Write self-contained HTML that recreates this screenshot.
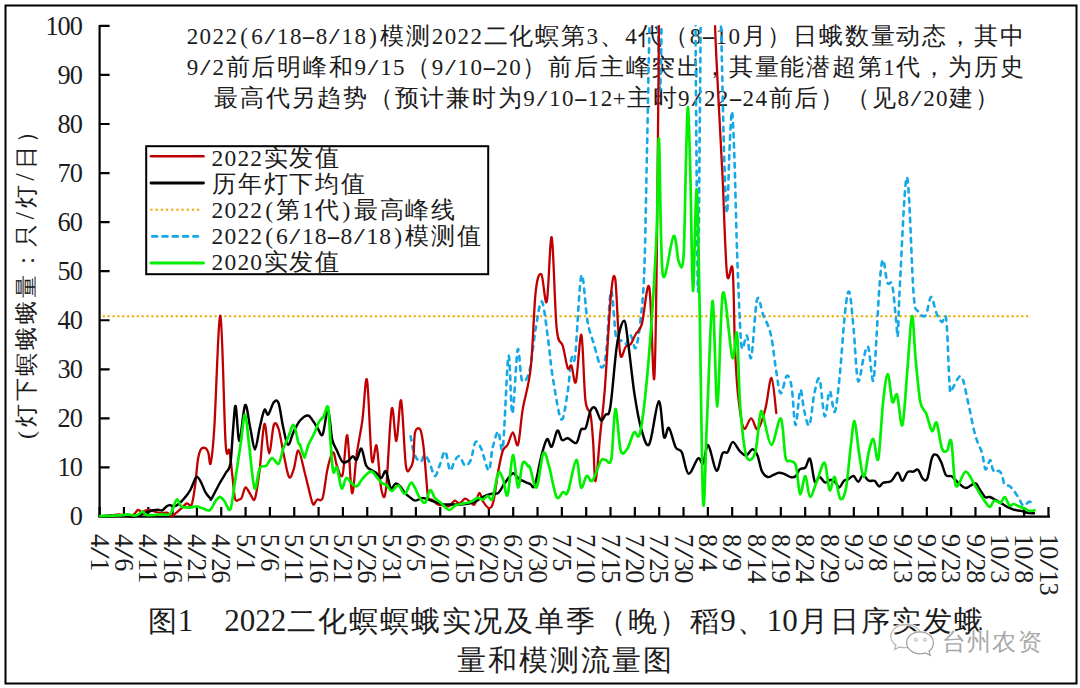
<!DOCTYPE html>
<html><head><meta charset="utf-8"><style>
html,body{margin:0;padding:0;background:#fff;width:1080px;height:688px;overflow:hidden}
svg{display:block;font-family:"Liberation Serif", serif}
</style></head><body>
<svg width="1080" height="688" viewBox="0 0 1080 688">
<rect x="0" y="0" width="1080" height="688" fill="#fff"/><rect x="5.5" y="5.5" width="1071" height="678" fill="none" stroke="#000" stroke-width="2"/><text x="60" y="620" font-size="8" fill="#fff">0</text><g fill="#1c1c1c"><text x="192.45" y="44.10" font-size="23.00" text-anchor="middle">2</text><text x="205.35" y="44.10" font-size="23.00" text-anchor="middle">0</text><text x="218.25" y="44.10" font-size="23.00" text-anchor="middle">2</text><text x="231.15" y="44.10" font-size="23.00" text-anchor="middle">2</text><text x="244.05" y="44.10" font-size="23.00" text-anchor="middle">(</text><text x="256.95" y="44.10" font-size="23.00" text-anchor="middle">6</text><text transform="translate(269.85,44.10) scale(1.65,1)" font-size="23.00" text-anchor="middle">/</text><text x="282.75" y="44.10" font-size="23.00" text-anchor="middle">1</text><text x="295.65" y="44.10" font-size="23.00" text-anchor="middle">8</text><text transform="translate(308.55,44.10) scale(1.9,1)" font-size="23.00" text-anchor="middle">-</text><text x="321.45" y="44.10" font-size="23.00" text-anchor="middle">8</text><text transform="translate(334.35,44.10) scale(1.65,1)" font-size="23.00" text-anchor="middle">/</text><text x="347.25" y="44.10" font-size="23.00" text-anchor="middle">1</text><text x="360.15" y="44.10" font-size="23.00" text-anchor="middle">8</text><text x="373.05" y="44.10" font-size="23.00" text-anchor="middle">)</text><text x="392.40" y="44.10" font-size="24.20" text-anchor="middle">模</text><text x="418.20" y="44.10" font-size="24.20" text-anchor="middle">测</text><text x="437.55" y="44.10" font-size="23.00" text-anchor="middle">2</text><text x="450.45" y="44.10" font-size="23.00" text-anchor="middle">0</text><text x="463.35" y="44.10" font-size="23.00" text-anchor="middle">2</text><text x="476.25" y="44.10" font-size="23.00" text-anchor="middle">2</text><text x="495.60" y="44.10" font-size="24.20" text-anchor="middle">二</text><text x="521.40" y="44.10" font-size="24.20" text-anchor="middle">化</text><text x="547.20" y="44.10" font-size="24.20" text-anchor="middle">螟</text><text x="573.00" y="44.10" font-size="24.20" text-anchor="middle">第</text><text x="592.35" y="44.10" font-size="23.00" text-anchor="middle">3</text><text x="611.70" y="44.10" font-size="24.20" text-anchor="middle">、</text><text x="631.05" y="44.10" font-size="23.00" text-anchor="middle">4</text><text x="650.40" y="44.10" font-size="24.20" text-anchor="middle">代</text><text x="676.20" y="44.10" font-size="24.20" text-anchor="middle">（</text><text x="695.55" y="44.10" font-size="23.00" text-anchor="middle">8</text><text transform="translate(708.45,44.10) scale(1.9,1)" font-size="23.00" text-anchor="middle">-</text><text x="721.35" y="44.10" font-size="23.00" text-anchor="middle">1</text><text x="734.25" y="44.10" font-size="23.00" text-anchor="middle">0</text><text x="753.60" y="44.10" font-size="24.20" text-anchor="middle">月</text><text x="779.40" y="44.10" font-size="24.20" text-anchor="middle">）</text><text x="805.20" y="44.10" font-size="24.20" text-anchor="middle">日</text><text x="831.00" y="44.10" font-size="24.20" text-anchor="middle">蛾</text><text x="856.80" y="44.10" font-size="24.20" text-anchor="middle">数</text><text x="882.60" y="44.10" font-size="24.20" text-anchor="middle">量</text><text x="908.40" y="44.10" font-size="24.20" text-anchor="middle">动</text><text x="934.20" y="44.10" font-size="24.20" text-anchor="middle">态</text><text x="960.00" y="44.10" font-size="24.20" text-anchor="middle">，</text><text x="985.80" y="44.10" font-size="24.20" text-anchor="middle">其</text><text x="1011.60" y="44.10" font-size="24.20" text-anchor="middle">中</text><text x="192.45" y="74.60" font-size="23.00" text-anchor="middle">9</text><text transform="translate(205.35,74.60) scale(1.65,1)" font-size="23.00" text-anchor="middle">/</text><text x="218.25" y="74.60" font-size="23.00" text-anchor="middle">2</text><text x="237.60" y="74.60" font-size="24.20" text-anchor="middle">前</text><text x="263.40" y="74.60" font-size="24.20" text-anchor="middle">后</text><text x="289.20" y="74.60" font-size="24.20" text-anchor="middle">明</text><text x="315.00" y="74.60" font-size="24.20" text-anchor="middle">峰</text><text x="340.80" y="74.60" font-size="24.20" text-anchor="middle">和</text><text x="360.15" y="74.60" font-size="23.00" text-anchor="middle">9</text><text transform="translate(373.05,74.60) scale(1.65,1)" font-size="23.00" text-anchor="middle">/</text><text x="385.95" y="74.60" font-size="23.00" text-anchor="middle">1</text><text x="398.85" y="74.60" font-size="23.00" text-anchor="middle">5</text><text x="418.20" y="74.60" font-size="24.20" text-anchor="middle">（</text><text x="437.55" y="74.60" font-size="23.00" text-anchor="middle">9</text><text transform="translate(450.45,74.60) scale(1.65,1)" font-size="23.00" text-anchor="middle">/</text><text x="463.35" y="74.60" font-size="23.00" text-anchor="middle">1</text><text x="476.25" y="74.60" font-size="23.00" text-anchor="middle">0</text><text transform="translate(489.15,74.60) scale(1.9,1)" font-size="23.00" text-anchor="middle">-</text><text x="502.05" y="74.60" font-size="23.00" text-anchor="middle">2</text><text x="514.95" y="74.60" font-size="23.00" text-anchor="middle">0</text><text x="534.30" y="74.60" font-size="24.20" text-anchor="middle">）</text><text x="560.10" y="74.60" font-size="24.20" text-anchor="middle">前</text><text x="585.90" y="74.60" font-size="24.20" text-anchor="middle">后</text><text x="611.70" y="74.60" font-size="24.20" text-anchor="middle">主</text><text x="637.50" y="74.60" font-size="24.20" text-anchor="middle">峰</text><text x="663.30" y="74.60" font-size="24.20" text-anchor="middle">突</text><text x="689.10" y="74.60" font-size="24.20" text-anchor="middle">出</text><text x="714.90" y="74.60" font-size="24.20" text-anchor="middle">，</text><text x="740.70" y="74.60" font-size="24.20" text-anchor="middle">其</text><text x="766.50" y="74.60" font-size="24.20" text-anchor="middle">量</text><text x="792.30" y="74.60" font-size="24.20" text-anchor="middle">能</text><text x="818.10" y="74.60" font-size="24.20" text-anchor="middle">潜</text><text x="843.90" y="74.60" font-size="24.20" text-anchor="middle">超</text><text x="869.70" y="74.60" font-size="24.20" text-anchor="middle">第</text><text x="889.05" y="74.60" font-size="23.00" text-anchor="middle">1</text><text x="908.40" y="74.60" font-size="24.20" text-anchor="middle">代</text><text x="934.20" y="74.60" font-size="24.20" text-anchor="middle">，</text><text x="960.00" y="74.60" font-size="24.20" text-anchor="middle">为</text><text x="985.80" y="74.60" font-size="24.20" text-anchor="middle">历</text><text x="1011.60" y="74.60" font-size="24.20" text-anchor="middle">史</text><text x="225.90" y="105.60" font-size="24.20" text-anchor="middle">最</text><text x="251.70" y="105.60" font-size="24.20" text-anchor="middle">高</text><text x="277.50" y="105.60" font-size="24.20" text-anchor="middle">代</text><text x="303.30" y="105.60" font-size="24.20" text-anchor="middle">另</text><text x="329.10" y="105.60" font-size="24.20" text-anchor="middle">趋</text><text x="354.90" y="105.60" font-size="24.20" text-anchor="middle">势</text><text x="380.70" y="105.60" font-size="24.20" text-anchor="middle">（</text><text x="406.50" y="105.60" font-size="24.20" text-anchor="middle">预</text><text x="432.30" y="105.60" font-size="24.20" text-anchor="middle">计</text><text x="458.10" y="105.60" font-size="24.20" text-anchor="middle">兼</text><text x="483.90" y="105.60" font-size="24.20" text-anchor="middle">时</text><text x="509.70" y="105.60" font-size="24.20" text-anchor="middle">为</text><text x="529.05" y="105.60" font-size="23.00" text-anchor="middle">9</text><text transform="translate(541.95,105.60) scale(1.65,1)" font-size="23.00" text-anchor="middle">/</text><text x="554.85" y="105.60" font-size="23.00" text-anchor="middle">1</text><text x="567.75" y="105.60" font-size="23.00" text-anchor="middle">0</text><text transform="translate(580.65,105.60) scale(1.9,1)" font-size="23.00" text-anchor="middle">-</text><text x="593.55" y="105.60" font-size="23.00" text-anchor="middle">1</text><text x="606.45" y="105.60" font-size="23.00" text-anchor="middle">2</text><text x="619.35" y="105.60" font-size="23.00" text-anchor="middle">+</text><text x="638.70" y="105.60" font-size="24.20" text-anchor="middle">主</text><text x="664.50" y="105.60" font-size="24.20" text-anchor="middle">时</text><text x="683.85" y="105.60" font-size="23.00" text-anchor="middle">9</text><text transform="translate(696.75,105.60) scale(1.65,1)" font-size="23.00" text-anchor="middle">/</text><text x="709.65" y="105.60" font-size="23.00" text-anchor="middle">2</text><text x="722.55" y="105.60" font-size="23.00" text-anchor="middle">2</text><text transform="translate(735.45,105.60) scale(1.9,1)" font-size="23.00" text-anchor="middle">-</text><text x="748.35" y="105.60" font-size="23.00" text-anchor="middle">2</text><text x="761.25" y="105.60" font-size="23.00" text-anchor="middle">4</text><text x="780.60" y="105.60" font-size="24.20" text-anchor="middle">前</text><text x="806.40" y="105.60" font-size="24.20" text-anchor="middle">后</text><text x="832.20" y="105.60" font-size="24.20" text-anchor="middle">）</text><text x="858.00" y="105.60" font-size="24.20" text-anchor="middle">（</text><text x="883.80" y="105.60" font-size="24.20" text-anchor="middle">见</text><text x="903.15" y="105.60" font-size="23.00" text-anchor="middle">8</text><text transform="translate(916.05,105.60) scale(1.65,1)" font-size="23.00" text-anchor="middle">/</text><text x="928.95" y="105.60" font-size="23.00" text-anchor="middle">2</text><text x="941.85" y="105.60" font-size="23.00" text-anchor="middle">0</text><text x="961.20" y="105.60" font-size="24.20" text-anchor="middle">建</text><text x="987.00" y="105.60" font-size="24.20" text-anchor="middle">）</text></g><line x1="99.6" y1="24.9" x2="99.6" y2="517.6" stroke="#000" stroke-width="2.2"/><line x1="98.5" y1="516.6" x2="1050" y2="516.6" stroke="#000" stroke-width="2.2"/><path d="M99.6,516.50H109.6M99.6,467.44H109.6M99.6,418.38H109.6M99.6,369.32H109.6M99.6,320.26H109.6M99.6,271.20H109.6M99.6,222.14H109.6M99.6,173.08H109.6M99.6,124.02H109.6M99.6,74.96H109.6M99.6,25.90H109.6M99.60,516.6V507M123.93,516.6V507M148.26,516.6V507M172.59,516.6V507M196.92,516.6V507M221.25,516.6V507M245.58,516.6V507M269.91,516.6V507M294.24,516.6V507M318.57,516.6V507M342.90,516.6V507M367.23,516.6V507M391.56,516.6V507M415.89,516.6V507M440.22,516.6V507M464.55,516.6V507M488.88,516.6V507M513.21,516.6V507M537.54,516.6V507M561.87,516.6V507M586.20,516.6V507M610.53,516.6V507M634.86,516.6V507M659.19,516.6V507M683.52,516.6V507M707.85,516.6V507M732.18,516.6V507M756.51,516.6V507M780.84,516.6V507M805.17,516.6V507M829.50,516.6V507M853.83,516.6V507M878.16,516.6V507M902.49,516.6V507M926.82,516.6V507M951.15,516.6V507M975.48,516.6V507M999.81,516.6V507M1024.14,516.6V507M1048.47,516.6V507" stroke="#000" stroke-width="2.2" fill="none"/><defs><clipPath id="pc"><rect x="99" y="25.3" width="952" height="493"/></clipPath></defs><line x1="103.8" y1="316.3" x2="1031" y2="316.3" stroke="#EDB41E" stroke-width="2.6" stroke-dasharray="0 4.86" stroke-linecap="round"/><g clip-path="url(#pc)" fill="none" stroke-linejoin="round" stroke-linecap="round"><path d="M410.6,436.3C411.2,439.3 412.7,450.0 414.4,454.3C416.1,458.6 419.0,461.7 420.7,461.8C422.3,462.0 423.0,455.2 424.5,455.2C425.9,455.2 427.4,458.4 429.2,461.8C430.9,465.3 433.1,475.4 434.8,476.0C436.6,476.6 437.8,469.7 439.6,465.6C441.3,461.5 443.5,450.6 445.2,451.4C447.0,452.2 448.4,468.8 450.0,470.3C451.5,471.9 453.1,463.3 454.7,460.9C456.3,458.5 457.7,455.4 459.4,456.2C461.2,457.0 463.2,465.0 465.1,465.6C467.0,466.2 469.0,463.9 470.8,459.9C472.5,456.0 473.8,443.9 475.5,442.0C477.2,440.1 479.0,443.9 481.2,448.6C483.4,453.3 486.8,470.3 488.7,470.3C490.6,470.3 490.9,455.1 492.5,448.6C494.1,442.1 496.4,431.9 498.2,431.6C499.9,431.3 501.2,459.3 502.9,446.7C504.6,434.1 506.9,361.4 508.5,355.9C510.1,350.4 510.8,414.7 512.4,413.6C513.9,412.6 516.1,355.2 517.7,349.7C519.3,344.2 520.1,377.1 522.1,380.6C524.1,384.1 527.2,379.3 529.5,370.7C531.8,362.0 533.6,340.2 535.7,328.7C537.7,317.2 539.8,299.9 541.9,301.5C543.9,303.2 546.2,326.3 548.0,338.6C549.8,350.9 550.3,362.0 552.5,375.5C554.7,389.0 558.7,416.4 561.2,419.3C563.7,422.2 565.8,403.2 567.5,393.0C569.2,382.8 570.2,364.5 571.5,358.3C572.8,352.1 573.5,369.7 575.2,355.9C576.8,342.1 579.3,281.4 581.4,275.6C583.4,269.9 585.5,310.0 587.5,321.3C589.6,332.6 591.4,335.9 593.7,343.5C596.0,351.1 599.1,365.3 601.1,367.0C603.2,368.6 604.4,366.1 606.0,353.4C607.7,340.7 609.3,293.8 611.0,291.0C612.7,288.2 614.4,328.5 616.0,336.7C617.6,344.9 619.2,339.2 620.8,340.4C622.4,341.6 624.1,344.8 625.8,344.0C627.4,343.2 629.1,334.9 630.7,335.5C632.4,336.1 634.1,350.6 635.7,347.9C637.4,345.2 639.2,332.4 640.6,319.4C642.0,306.4 643.2,298.2 644.3,270.0C645.4,241.8 646.1,190.8 647.0,150.0C647.9,109.2 648.7,60.0 649.5,25.0C650.3,-10.0 650.9,-49.2 652.0,-60.0C653.1,-70.8 654.8,-64.0 656.0,-40.0C657.2,-16.0 658.7,67.3 659.5,84.0C660.3,100.7 660.4,80.7 661.0,60.0C661.6,39.3 661.5,-5.0 663.0,-40.0C664.5,-75.0 665.8,-131.7 670.0,-150.0C674.2,-168.3 683.9,-168.3 688.0,-150.0C692.1,-131.7 693.2,-81.7 694.5,-40.0C695.8,1.7 695.4,44.7 696.0,100.0C696.6,155.3 697.3,291.7 698.0,291.7C698.7,291.7 699.3,155.3 700.0,100.0C700.7,44.7 700.3,1.7 702.0,-40.0C703.7,-81.7 707.3,-150.0 710.0,-150.0C712.7,-150.0 716.2,-69.2 718.0,-40.0C719.8,-10.8 720.0,-6.7 721.0,25.0C722.0,56.7 723.0,118.7 724.0,150.0C725.0,181.3 726.1,213.0 727.0,213.0C727.9,213.0 728.7,166.9 729.5,150.0C730.3,133.1 731.2,109.8 732.0,111.5C732.8,113.2 733.7,136.9 734.5,160.0C735.3,183.1 736.0,221.7 737.0,250.0C738.0,278.3 739.4,313.6 740.3,330.0C741.2,346.4 741.4,347.8 742.5,348.7C743.6,349.6 745.4,334.2 746.9,335.6C748.4,337.1 749.5,363.4 751.2,357.4C752.9,351.4 755.1,306.7 757.1,299.6C759.1,292.5 760.9,309.1 763.2,314.9C765.5,320.7 768.6,325.1 770.8,334.5C773.0,343.9 774.6,361.8 776.3,371.6C777.9,381.4 779.0,392.7 780.7,393.4C782.5,394.1 785.0,377.0 786.8,375.9C788.6,374.8 790.1,378.6 791.6,386.8C793.1,395.0 794.0,424.5 795.5,425.0C797.0,425.5 798.8,392.4 800.3,390.0C801.8,387.6 802.7,405.0 804.2,410.8C805.7,416.6 807.7,427.9 809.4,425.0C811.1,422.1 812.7,401.0 814.4,393.4C816.1,385.8 817.8,375.4 819.5,379.2C821.2,383.0 823.0,414.2 824.7,416.2C826.4,418.2 828.0,391.9 829.7,391.2C831.4,390.5 833.1,414.1 834.7,411.9C836.3,409.7 837.8,394.5 839.5,378.0C841.2,361.5 843.4,327.0 845.0,312.7C846.6,298.4 847.8,289.1 849.3,292.0C850.8,294.9 852.3,315.2 853.7,330.0C855.1,344.8 856.3,375.8 858.0,380.6C859.6,385.5 861.7,364.7 863.4,359.1C865.1,353.5 866.5,343.5 868.2,347.1C869.8,350.7 871.8,382.6 873.2,380.9C874.6,379.3 875.4,353.6 876.5,337.3C877.5,320.9 878.6,295.6 879.7,282.7C880.8,269.8 881.7,259.8 883.0,259.8C884.3,259.8 885.8,278.5 887.4,282.7C888.9,286.9 890.7,278.7 892.2,284.9C893.6,291.1 895.1,311.5 896.1,319.8C897.0,328.2 897.2,341.3 897.8,335.1C898.5,328.9 898.5,309.0 900.0,282.7C901.5,256.4 904.7,175.4 907.0,177.2C909.3,179.1 911.7,271.3 913.6,293.6C915.4,315.9 915.9,307.5 917.9,311.1C919.9,314.7 923.4,317.8 925.6,315.5C927.7,313.1 929.2,297.3 931.0,296.9C932.8,296.5 934.6,309.1 936.5,313.3C938.3,317.5 940.3,320.9 941.9,322.0C943.6,323.1 945.0,309.3 946.3,319.8C947.6,330.4 948.6,373.6 949.6,385.3C950.5,396.9 949.8,391.1 951.7,389.6C953.7,388.1 958.3,374.2 961.0,376.3C963.8,378.3 965.7,392.2 968.0,401.9C970.3,411.6 972.7,425.9 975.0,434.4C977.3,442.9 980.2,447.2 982.0,453.0C983.7,458.8 984.1,468.1 985.5,469.3C986.8,470.5 988.9,460.0 990.1,460.0C991.3,460.0 991.8,467.0 992.7,469.1C993.6,471.2 994.6,472.3 995.6,472.6C996.6,472.8 997.4,470.4 998.5,470.8C999.6,471.2 1001.0,472.7 1002.0,474.9C1002.9,477.1 1003.4,482.4 1004.3,484.2C1005.2,485.9 1006.2,485.0 1007.2,485.3C1008.2,485.7 1009.0,485.5 1010.1,486.5C1011.3,487.5 1012.7,489.2 1014.2,491.2C1015.6,493.1 1017.3,495.7 1018.8,498.1C1020.4,500.6 1021.7,505.1 1023.5,505.7C1025.2,506.3 1027.7,501.8 1029.3,501.6C1030.9,501.4 1032.7,504.1 1033.4,504.5" stroke="#14A8E6" stroke-width="2.6" stroke-dasharray="4.4 5.6" stroke-linecap="round"/><path d="M99.7,516.2C101.2,516.1 105.9,515.9 109.0,515.6C112.1,515.3 115.7,514.5 118.3,514.4C120.8,514.4 122.1,515.1 124.1,515.3C126.0,515.6 128.1,516.4 129.9,516.2C131.6,515.9 133.2,514.9 134.5,513.8C135.9,512.8 136.9,510.1 138.0,509.8C139.2,509.5 140.2,512.0 141.5,512.1C142.9,512.2 144.8,510.7 146.2,510.3C147.5,510.0 148.3,509.6 149.7,509.8C151.0,510.0 152.8,511.0 154.3,511.5C155.8,512.0 157.0,512.4 158.4,512.7C159.7,513.0 161.0,513.3 162.4,513.3C163.9,513.3 165.5,512.2 167.1,512.7C168.6,513.2 170.2,516.2 171.7,516.2C173.3,516.2 174.8,513.9 176.4,512.7C177.9,511.4 179.3,510.2 181.0,508.6C182.8,507.1 185.1,504.0 186.9,503.4C188.6,502.8 190.2,507.9 191.5,505.1C192.9,502.3 193.9,494.1 195.0,486.5C196.1,479.0 196.9,466.0 197.9,459.8C198.9,453.6 199.6,451.2 200.8,449.3C202.1,447.4 204.2,447.6 205.5,448.1C206.7,448.7 207.5,450.3 208.4,452.8C209.2,455.3 209.7,467.4 210.7,463.3C211.7,459.1 212.7,452.4 214.3,427.8C215.9,403.2 218.5,313.2 220.4,315.7C222.3,318.2 224.1,420.5 225.6,443.0C227.1,465.5 228.3,445.1 229.4,450.5C230.5,455.8 231.3,467.0 232.3,475.1C233.2,483.1 234.0,494.6 235.1,498.7C236.2,502.8 237.8,499.8 238.9,499.6C240.0,499.5 240.6,499.8 241.7,497.8C242.8,495.7 244.1,488.0 245.5,487.4C246.9,486.7 248.6,492.1 250.2,494.0C251.8,495.9 253.4,502.8 254.9,498.7C256.5,494.6 258.1,481.8 259.7,469.4C261.2,457.0 262.8,426.7 264.4,424.0C266.0,421.3 267.5,453.2 269.1,453.3C270.7,453.5 272.3,429.1 273.8,425.0C275.4,420.9 277.0,424.2 278.6,428.8C280.1,433.3 281.6,444.3 283.3,452.4C285.0,460.4 287.2,474.1 289.0,477.0C290.7,479.8 292.1,473.8 293.7,469.4C295.3,465.0 296.6,449.9 298.4,450.5C300.3,451.1 303.0,466.2 304.9,473.2C306.7,480.1 308.1,486.9 309.5,492.1C310.8,497.3 312.0,503.1 313.2,504.4C314.5,505.6 315.4,500.7 317.0,499.6C318.6,498.5 321.0,502.8 322.7,497.8C324.4,492.7 325.7,477.0 327.4,469.4C329.1,461.8 331.5,453.0 333.1,452.4C334.7,451.8 335.3,461.8 336.9,465.6C338.4,469.4 340.8,480.1 342.5,475.1C344.3,470.0 345.7,432.4 347.3,435.4C348.8,438.4 350.4,489.9 352.0,493.0C353.6,496.2 355.0,466.4 356.7,454.3C358.4,442.1 360.7,432.6 362.4,420.2C364.1,407.9 365.4,373.4 367.0,380.0C368.6,386.6 370.2,449.0 371.8,459.9C373.4,470.9 375.0,440.9 376.6,445.8C378.1,450.6 379.7,482.0 381.3,489.2C382.9,496.5 384.3,502.6 386.0,489.2C387.7,475.9 389.9,416.9 391.7,408.9C393.4,400.9 394.8,442.5 396.4,441.0C398.0,439.6 399.6,396.3 401.1,400.4C402.7,404.5 404.3,454.4 405.9,465.6C407.4,476.8 409.3,468.8 410.6,467.5C411.8,466.2 412.7,463.9 413.4,458.1C414.2,452.2 413.9,437.3 415.0,432.5C416.1,427.8 418.9,427.3 420.3,429.7C421.7,432.1 422.5,438.5 423.5,446.7C424.5,454.9 425.6,470.3 426.3,478.8C427.1,487.4 427.3,494.3 428.2,497.8C429.2,501.2 430.4,498.5 432.0,499.6C433.6,500.7 435.8,503.4 437.7,504.4C439.6,505.3 441.5,505.0 443.4,505.3C445.2,505.6 447.1,507.0 449.0,506.3C450.9,505.5 453.0,501.1 454.7,500.6C456.4,500.1 457.7,503.7 459.4,503.4C461.2,503.1 463.4,499.0 465.1,498.7C466.8,498.4 468.2,500.6 469.8,501.5C471.4,502.5 473.0,505.8 474.5,504.4C476.1,502.9 477.9,493.5 479.3,493.0C480.7,492.6 481.4,499.0 483.1,501.5C484.7,504.1 487.4,508.1 489.1,508.1C490.8,508.1 491.9,507.7 493.4,501.5C495.0,495.4 496.6,479.8 498.2,471.3C499.8,462.8 501.3,454.9 502.9,450.5C504.5,446.1 506.0,447.8 507.6,444.8C509.3,441.8 511.2,432.5 512.9,432.5C514.7,432.5 516.4,448.8 518.0,444.8C519.7,440.9 520.6,421.7 522.8,408.9C524.9,396.1 528.6,387.7 530.7,368.2C532.9,348.7 533.9,307.3 535.7,291.7C537.4,276.0 539.5,272.7 541.4,274.4C543.2,276.0 545.1,307.7 546.8,301.5C548.5,295.4 550.1,232.8 551.7,237.3C553.4,241.9 554.8,310.6 556.7,328.7C558.5,346.8 561.0,339.4 562.8,346.0C564.7,352.6 566.3,364.9 567.8,368.2C569.2,371.5 570.1,363.5 571.5,365.7C572.8,368.0 574.3,386.9 575.9,381.8C577.6,376.6 579.8,331.8 581.4,334.9C582.9,337.9 583.9,386.7 585.4,400.0C586.9,413.3 589.2,407.8 590.5,414.5C591.8,421.2 592.1,428.9 593.0,440.0C593.9,451.1 594.4,482.1 595.6,481.2C596.8,480.3 598.7,450.2 600.2,434.7C601.8,419.2 603.1,411.3 604.9,388.0C606.7,364.7 609.2,312.9 611.0,294.7C612.7,276.5 613.9,272.5 615.2,278.7C616.4,284.8 617.4,318.8 618.4,331.8C619.3,344.8 619.6,354.0 620.8,356.5C622.1,359.0 624.1,348.7 625.8,346.6C627.4,344.6 629.1,346.2 630.7,344.1C632.4,342.1 633.8,337.6 635.7,334.3C637.5,331.0 639.6,332.2 641.8,324.4C644.1,316.5 647.2,278.2 649.3,287.3C651.3,296.4 652.9,386.6 654.2,378.7C655.5,370.9 656.2,299.0 657.0,240.0C657.8,181.0 658.2,85.0 659.0,25.0C659.8,-35.0 659.0,-82.5 662.0,-120.0C668.8,-157.5 691.7,-206.7 700.0,-200.0C708.3,-193.3 709.5,-117.5 712.0,-80.0C714.5,-42.5 714.0,-3.3 715.0,25.0C716.0,53.3 716.8,64.8 718.0,90.0C719.2,115.2 721.0,145.3 722.5,176.0C724.0,206.7 725.3,258.5 727.0,274.0C728.7,289.5 731.3,257.1 732.6,269.0C733.9,280.9 734.0,324.3 734.9,345.4C735.8,366.5 736.6,381.7 738.1,395.5C739.6,409.3 741.4,424.4 743.6,428.2C745.8,432.0 748.8,418.2 751.2,418.4C753.6,418.6 755.4,430.9 757.8,429.3C760.2,427.7 763.1,417.2 765.4,408.6C767.7,400.1 769.7,377.3 771.5,378.0C773.3,378.7 775.5,407.2 776.3,413.0" stroke="#C00000" stroke-width="2.3"/><path d="M99.7,516.2C103.7,516.1 118.4,515.5 124.1,515.6C129.7,515.6 130.5,516.7 133.4,516.5C136.3,516.3 139.2,515.2 141.5,514.4C143.8,513.7 145.4,512.8 147.3,512.1C149.3,511.4 151.4,510.7 153.1,510.3C154.9,510.0 156.2,509.8 157.8,509.8C159.3,509.8 161.1,510.8 162.4,510.3C163.8,509.9 164.8,507.7 165.9,506.9C167.1,506.0 168.1,505.2 169.4,505.1C170.8,505.0 172.5,506.5 174.1,506.3C175.6,506.1 177.0,505.3 178.7,504.0C180.5,502.6 182.6,500.5 184.5,498.1C186.5,495.8 188.8,492.7 190.3,490.0C191.9,487.3 192.8,484.1 193.8,481.9C194.9,479.6 195.6,476.6 196.7,476.6C197.9,476.6 199.4,479.2 200.8,481.9C202.3,484.5 203.9,489.6 205.5,492.3C207.0,495.0 209.1,497.1 210.1,498.1C211.1,499.2 210.1,501.0 211.5,498.7C213.0,496.4 216.7,488.8 219.0,484.5C221.4,480.3 223.8,476.6 225.6,473.2C227.5,469.7 229.1,471.3 230.4,463.7C231.6,456.2 232.3,437.4 233.2,427.8C234.1,418.2 234.6,403.9 235.7,406.1C236.7,408.3 237.9,441.2 239.4,441.0C241.0,440.9 243.3,407.3 245.1,405.1C246.9,402.9 248.6,420.4 250.2,427.8C251.9,435.2 253.4,449.5 254.9,449.5C256.5,449.5 258.1,434.4 259.7,427.8C261.2,421.2 263.0,412.1 264.4,409.8C265.8,407.6 266.6,415.8 268.2,414.6C269.8,413.3 272.1,404.2 273.8,402.3C275.6,400.4 277.0,399.0 278.6,403.2C280.1,407.5 281.7,420.9 283.3,427.8C284.9,434.7 286.3,444.2 288.0,444.8C289.8,445.5 291.6,435.7 293.7,431.6C295.7,427.5 297.9,422.9 300.3,420.2C302.7,417.6 305.8,415.4 307.9,415.5C310.1,415.7 311.6,419.0 313.2,421.2C314.9,423.4 316.4,426.5 318.0,428.8C319.5,431.0 321.0,437.6 322.7,434.4C324.4,431.3 326.4,409.1 328.0,409.8C329.6,410.6 330.7,432.4 332.1,439.1C333.6,445.9 335.1,446.7 336.9,450.5C338.6,454.3 340.6,460.1 342.5,461.8C344.4,463.6 346.5,461.8 348.2,460.9C349.9,459.9 351.5,456.3 352.9,456.2C354.3,456.0 355.3,461.2 356.7,459.9C358.1,458.7 359.9,447.7 361.4,448.6C363.0,449.5 364.4,462.0 366.2,465.6C367.9,469.2 370.1,469.1 371.8,470.3C373.6,471.6 375.0,471.9 376.6,473.2C378.1,474.4 379.7,478.2 381.3,477.9C382.9,477.6 384.4,469.6 386.0,471.3C387.6,473.0 389.2,486.3 390.7,488.3C392.3,490.3 393.9,483.9 395.5,483.6C397.0,483.3 398.6,484.8 400.2,486.4C401.8,488.0 403.2,491.1 404.9,493.0C406.6,494.9 408.9,496.5 410.6,497.8C412.3,499.0 413.2,500.5 415.3,500.6C417.5,500.6 420.4,498.0 423.5,498.1C426.6,498.3 430.6,500.5 433.9,501.5C437.2,502.6 440.2,503.9 443.4,504.4C446.5,504.8 449.3,504.4 452.8,504.4C456.3,504.4 460.4,504.8 464.1,504.4C467.9,503.9 472.3,502.8 475.5,501.5C478.6,500.3 480.5,498.1 483.1,496.8C485.6,495.5 488.1,494.6 490.6,494.0C493.1,493.3 496.0,494.6 498.2,493.0C500.4,491.4 502.1,487.0 503.8,484.5C505.6,482.0 507.0,479.8 508.6,477.9C510.1,476.0 511.6,473.0 513.3,473.2C515.0,473.3 517.1,477.4 519.0,478.8C520.9,480.3 522.8,480.8 524.6,481.7C526.5,482.5 528.5,483.4 530.2,484.0C531.8,484.7 532.9,490.1 534.7,485.5C536.6,480.8 539.3,463.9 541.3,456.2C543.4,448.4 545.3,440.7 547.0,439.1C548.7,437.6 550.0,448.1 551.7,446.7C553.5,445.3 555.7,431.7 557.4,430.6C559.1,429.5 560.4,438.8 562.1,440.1C563.9,441.4 565.4,437.7 567.8,438.2C570.2,438.7 574.1,444.3 576.3,442.9C578.5,441.5 579.5,432.2 581.0,429.7C582.6,427.2 584.2,431.0 585.8,427.8C587.3,424.7 588.9,414.1 590.5,410.8C592.1,407.5 593.5,406.4 595.2,408.0C597.0,409.5 599.2,419.1 600.9,420.2C602.6,421.3 604.0,416.8 605.6,414.6C607.2,412.4 608.4,418.8 610.3,407.0C612.3,395.3 614.8,358.5 617.1,344.1C619.4,329.8 622.2,320.7 624.1,320.7C625.9,320.7 626.5,332.0 628.3,344.1C630.0,356.3 632.3,379.6 634.4,393.6C636.6,407.6 638.5,419.6 641.0,428.0C643.5,436.4 646.2,448.6 649.2,444.2C652.2,439.8 656.2,402.6 658.7,401.4C661.2,400.2 662.3,432.6 664.0,437.0C665.7,441.4 667.0,426.2 668.9,427.9C670.8,429.6 673.5,443.1 675.6,447.2C677.8,451.3 679.6,447.9 681.8,452.3C683.9,456.7 685.8,472.7 688.5,473.7C691.2,474.7 695.6,460.1 698.0,458.4C700.4,456.7 701.4,465.7 703.1,463.5C704.8,461.3 706.0,444.0 708.2,445.2C710.4,446.4 714.0,469.2 716.4,470.6C718.8,472.0 720.6,456.4 722.5,453.3C724.4,450.2 725.9,454.2 727.6,452.3C729.3,450.4 730.6,442.3 732.7,442.1C734.8,441.9 737.7,449.1 740.0,451.3C742.3,453.5 744.2,455.8 746.2,455.5C748.3,455.2 750.6,449.2 752.5,449.2C754.4,449.2 755.9,451.8 757.5,455.5C759.1,459.2 760.2,467.7 761.9,471.3C763.6,474.9 765.7,476.3 767.6,477.0C769.5,477.6 771.3,475.8 773.2,475.1C775.1,474.4 777.0,473.0 778.9,472.8C780.8,472.6 782.5,473.4 784.6,474.1C786.6,474.9 789.3,477.0 791.2,477.3C793.1,477.6 794.5,477.3 795.9,476.0C797.3,474.7 798.1,470.8 799.7,469.4C801.3,468.0 803.6,469.2 805.4,467.5C807.1,465.8 808.5,456.6 810.1,459.0C811.7,461.4 813.2,478.7 814.8,481.7C816.4,484.7 817.8,476.8 819.5,477.0C821.3,477.1 823.3,482.2 825.2,482.6C827.1,483.1 829.2,479.8 830.9,479.8C832.6,479.8 834.2,481.4 835.6,482.6C837.0,483.9 838.0,487.7 839.4,487.4C840.8,487.0 842.5,482.2 844.1,480.7C845.7,479.3 847.3,479.6 848.8,478.8C850.4,478.1 852.0,475.5 853.6,476.0C855.1,476.5 856.7,481.8 858.3,481.7C859.9,481.5 861.3,475.2 863.0,475.1C864.8,474.9 866.8,479.8 868.7,480.7C870.6,481.7 873.0,480.0 874.7,480.9C876.4,481.9 877.7,486.1 879.1,486.4C880.5,486.7 881.1,483.7 883.1,482.8C885.2,481.9 888.8,482.6 891.3,480.9C893.7,479.3 895.9,472.8 897.8,472.8C899.7,472.8 900.8,481.0 902.4,480.9C904.1,480.8 905.7,473.6 907.6,472.1C909.4,470.5 911.6,472.0 913.4,471.6C915.1,471.2 916.5,468.6 918.0,469.8C919.6,470.9 921.1,477.1 922.7,478.6C924.2,480.1 925.8,482.1 927.3,478.6C928.9,475.1 930.4,461.6 932.0,457.7C933.5,453.7 935.1,454.1 936.6,454.9C938.2,455.7 939.7,459.0 941.3,462.3C942.8,465.7 944.2,472.8 945.9,475.1C947.7,477.4 949.8,475.1 951.7,476.3C953.7,477.4 955.2,480.2 957.6,482.1C959.9,484.0 962.8,487.7 965.7,487.9C968.6,488.1 972.7,483.1 975.0,483.3C977.3,483.4 977.6,486.6 979.3,488.8C981.0,491.1 983.4,495.6 985.1,497.0C986.9,498.3 988.0,496.5 989.8,497.0C991.5,497.5 993.6,498.8 995.6,499.9C997.5,500.9 999.5,502.2 1001.4,503.4C1003.3,504.5 1005.1,505.8 1007.2,506.9C1009.3,507.9 1011.9,509.1 1014.2,509.8C1016.5,510.4 1019.0,510.4 1021.2,510.9C1023.3,511.4 1024.8,512.3 1027.0,512.7C1029.1,513.1 1032.8,513.2 1034.0,513.3" stroke="#000" stroke-width="2.45"/><path d="M99.7,516.2C101.8,516.1 108.8,515.7 112.4,515.6C116.1,515.4 119.2,515.5 121.7,515.3C124.3,515.2 125.4,514.4 127.6,514.4C129.7,514.5 132.7,515.6 134.5,515.6C136.4,515.6 137.2,515.1 138.6,514.4C140.0,513.7 141.4,511.4 142.7,511.5C143.9,511.6 144.4,514.4 146.2,515.0C147.9,515.6 150.8,515.1 153.1,515.0C155.5,514.9 157.4,514.5 160.1,514.4C162.8,514.3 167.3,515.4 169.4,514.4C171.6,513.4 171.6,511.1 172.9,508.6C174.2,506.1 175.6,499.7 177.0,499.3C178.3,498.9 179.6,504.9 181.0,506.3C182.5,507.6 184.0,507.2 185.7,507.4C187.4,507.6 189.8,507.6 191.5,507.4C193.3,507.2 194.4,506.2 196.2,506.3C197.9,506.4 199.7,507.4 202.0,508.0C204.3,508.7 207.6,511.3 209.8,510.2C212.1,509.1 213.6,503.8 215.2,501.5C216.9,499.3 218.4,496.8 220.0,496.8C221.5,496.8 223.0,499.5 224.7,501.5C226.4,503.6 228.6,512.6 230.4,509.1C232.1,505.6 233.4,491.8 235.1,480.7C236.8,469.7 239.1,454.0 240.8,442.9C242.4,431.9 243.7,413.9 245.1,414.6C246.5,415.2 247.7,434.4 249.3,446.7C250.8,459.0 252.8,484.7 254.6,488.3C256.3,491.9 257.7,472.2 259.7,468.4C261.6,464.7 264.2,467.3 266.3,465.6C268.3,463.9 269.9,458.4 272.0,458.1C274.0,457.7 276.7,465.3 278.6,463.7C280.5,462.1 281.6,453.2 283.3,448.6C285.0,444.0 286.9,440.3 288.6,436.3C290.3,432.4 292.1,423.9 293.7,425.0C295.3,426.1 297.4,439.6 298.4,442.9C299.5,446.2 299.1,442.6 300.0,444.8C300.9,447.0 302.9,454.3 303.8,456.2C304.6,458.1 304.3,458.1 305.0,456.2C305.8,454.3 307.0,448.6 308.5,444.8C310.0,441.0 312.4,437.3 314.2,433.5C315.9,429.7 317.3,425.0 318.9,422.1C320.5,419.3 322.1,419.0 323.6,416.5C325.1,413.9 326.9,403.5 328.0,407.0C329.1,410.5 329.4,426.5 330.2,437.3C331.1,448.0 332.0,466.2 333.1,471.3C334.2,476.3 335.4,464.7 336.9,467.5C338.3,470.3 340.0,486.6 341.6,488.3C343.2,490.0 344.7,478.8 346.3,477.9C347.9,477.0 349.3,481.2 351.0,482.6C352.8,484.0 354.8,487.0 356.7,486.4C358.6,485.8 360.0,481.4 362.4,478.8C364.7,476.3 368.5,471.6 370.9,471.3C373.3,471.0 374.8,475.1 376.6,477.0C378.3,478.8 379.6,481.2 381.3,482.6C383.0,484.0 385.2,484.0 387.0,485.5C388.7,486.9 389.8,491.1 391.7,491.1C393.6,491.1 396.1,485.0 398.3,485.5C400.5,485.9 402.7,494.4 404.9,494.0C407.1,493.5 409.1,482.0 411.5,482.6C414.0,483.3 417.4,494.4 419.7,497.8C422.0,501.1 423.7,503.7 425.4,502.5C427.1,501.2 428.5,491.0 430.1,490.2C431.7,489.4 433.0,495.5 434.8,497.8C436.7,500.0 439.1,501.4 441.5,503.4C443.8,505.5 446.7,509.7 449.0,510.0C451.4,510.4 453.1,506.4 455.6,505.3C458.2,504.2 461.5,504.1 464.1,503.4C466.8,502.8 469.5,502.5 471.7,501.5C473.9,500.6 475.5,498.1 477.4,497.8C479.3,497.4 481.3,500.0 483.1,499.6C484.8,499.3 486.2,496.0 487.8,495.9C489.4,495.7 490.8,502.5 492.5,498.7C494.2,494.9 496.4,476.5 498.2,473.2C499.9,469.9 501.3,475.2 502.9,478.8C504.5,482.5 506.0,498.9 507.6,494.9C509.3,491.0 511.2,456.5 512.9,455.2C514.7,454.0 516.4,486.1 518.0,487.4C519.7,488.6 521.0,466.2 522.8,462.8C524.5,459.3 527.2,465.8 528.4,466.6C529.6,467.3 528.6,464.0 530.0,467.5C531.4,471.0 534.4,489.7 536.6,487.4C538.8,485.0 541.2,457.0 543.2,453.3C545.3,449.7 546.7,458.4 548.9,465.6C551.1,472.9 554.1,492.4 556.5,496.8C558.8,501.2 561.2,492.9 563.1,492.1C565.0,491.3 565.6,497.4 567.8,492.1C570.0,486.7 574.1,460.7 576.3,459.9C578.5,459.2 579.3,484.7 581.0,487.4C582.8,490.0 584.8,477.1 586.7,476.0C588.6,474.9 590.0,483.3 592.4,480.7C594.7,478.2 598.7,464.4 600.9,460.9C603.1,457.4 603.9,460.3 605.6,459.9C607.3,459.6 609.6,467.5 611.3,459.0C612.9,450.5 613.9,410.3 615.4,408.9C617.0,407.5 618.8,443.9 620.7,450.5C622.7,457.1 625.1,451.6 627.4,448.6C629.6,445.6 631.9,434.9 634.0,432.5C636.0,430.2 637.7,440.9 639.6,434.4C641.5,427.9 643.5,412.8 645.5,393.6C647.5,374.4 649.8,346.7 651.7,319.4C653.6,292.1 655.5,260.1 656.7,230.0C657.9,199.9 658.0,131.7 659.0,139.0C660.0,146.3 660.3,257.8 662.7,274.0C665.1,290.2 670.9,238.0 673.6,236.0C676.3,234.0 677.1,258.5 678.8,262.0C680.4,265.5 682.3,274.0 683.5,257.0C684.7,240.0 685.2,184.9 686.0,160.0C686.8,135.1 687.2,104.2 688.0,107.5C688.8,110.8 689.7,149.4 690.5,180.0C691.3,210.6 692.0,289.5 693.0,291.0C694.0,292.5 695.6,187.5 696.7,189.0C697.8,190.5 698.4,247.8 699.5,300.0C700.6,352.2 701.9,482.2 703.1,502.2C704.4,522.2 705.4,453.5 707.0,420.0C708.6,386.5 710.8,303.3 712.5,301.0C714.2,298.7 715.7,407.7 717.4,406.4C719.1,405.1 720.4,301.2 722.9,293.0C725.4,284.8 729.9,350.7 732.3,357.4C734.6,364.1 735.7,325.8 737.0,333.4C738.3,341.0 738.5,382.6 740.0,403.0C741.5,423.4 743.8,447.2 746.2,455.5C748.8,463.8 752.7,459.7 755.0,453.0C757.3,446.3 758.7,421.9 760.0,415.5C761.3,409.1 760.9,409.7 762.8,414.6C764.7,419.5 768.3,444.2 771.3,444.8C774.3,445.5 778.4,416.3 780.8,418.4C783.2,420.4 783.9,450.0 785.5,457.1C787.1,464.2 788.5,459.5 790.2,460.9C792.0,462.3 794.3,460.1 795.9,465.6C797.6,471.1 798.5,492.2 800.1,494.0C801.7,495.7 803.7,475.5 805.4,476.0C807.0,476.5 808.0,496.3 810.1,496.8C812.1,497.3 815.2,484.5 817.7,478.8C820.1,473.2 822.7,460.9 824.7,462.8C826.6,464.7 827.9,487.8 829.6,490.2C831.2,492.6 832.9,475.5 834.7,477.0C836.5,478.4 838.4,496.8 840.3,498.7C842.2,500.6 844.3,497.0 846.0,488.3C847.7,479.6 849.3,457.9 850.7,446.7C852.2,435.5 853.1,419.9 854.5,421.2C855.9,422.5 857.7,445.0 859.2,454.3C860.8,463.6 862.4,477.3 864.0,477.0C865.5,476.6 867.1,458.7 868.7,452.4C870.3,446.1 871.8,438.1 873.4,439.1C875.0,440.2 876.6,465.1 878.3,458.9C879.9,452.7 881.5,416.0 883.1,401.9C884.7,387.7 886.2,374.0 887.8,374.0C889.3,374.0 890.9,398.4 892.4,401.9C894.0,405.3 895.4,391.0 897.1,394.9C898.8,398.8 900.7,429.8 902.4,425.1C904.2,420.5 906.0,385.2 907.6,367.0C909.2,348.8 910.6,317.2 912.0,316.0C913.4,314.8 914.3,345.7 915.7,360.0C917.1,374.3 918.6,392.9 920.3,401.9C922.1,410.8 924.2,408.6 926.2,413.5C928.1,418.3 930.2,429.4 932.0,430.9C933.7,432.5 935.0,419.9 936.6,422.8C938.3,425.7 940.2,443.7 942.0,448.4C943.7,453.0 945.5,451.9 947.1,450.7C948.6,449.5 949.8,435.6 951.3,441.4C952.8,447.2 953.5,480.5 955.9,485.6C958.3,490.6 962.5,471.6 965.7,471.6C968.9,471.6 972.5,481.7 975.0,485.6C977.5,489.4 978.8,492.0 980.5,494.7C982.2,497.3 983.6,499.6 985.1,501.6C986.7,503.7 988.3,507.0 989.8,506.9C991.2,506.8 992.5,501.9 993.8,501.0C995.2,500.2 996.7,501.3 997.9,501.6C999.1,501.9 999.7,503.6 1000.8,502.8C1002.0,502.0 1003.4,496.5 1004.9,497.0C1006.3,497.5 1008.1,504.5 1009.5,505.7C1011.0,506.9 1012.1,503.9 1013.6,504.0C1015.2,504.1 1017.0,505.5 1018.8,506.3C1020.7,507.1 1022.9,507.8 1024.7,508.6C1026.4,509.4 1027.7,510.6 1029.3,510.9C1030.9,511.2 1033.7,510.4 1034.5,510.3" stroke="#00F000" stroke-width="2.7"/></g><g fill="#1c1c1c"><text x="76.25" y="525.40" font-size="26.30" text-anchor="middle">0</text><text x="64.15" y="476.34" font-size="26.30" text-anchor="middle">1</text><text x="76.25" y="476.34" font-size="26.30" text-anchor="middle">0</text><text x="64.15" y="427.28" font-size="26.30" text-anchor="middle">2</text><text x="76.25" y="427.28" font-size="26.30" text-anchor="middle">0</text><text x="64.15" y="378.22" font-size="26.30" text-anchor="middle">3</text><text x="76.25" y="378.22" font-size="26.30" text-anchor="middle">0</text><text x="64.15" y="329.16" font-size="26.30" text-anchor="middle">4</text><text x="76.25" y="329.16" font-size="26.30" text-anchor="middle">0</text><text x="64.15" y="280.10" font-size="26.30" text-anchor="middle">5</text><text x="76.25" y="280.10" font-size="26.30" text-anchor="middle">0</text><text x="64.15" y="231.04" font-size="26.30" text-anchor="middle">6</text><text x="76.25" y="231.04" font-size="26.30" text-anchor="middle">0</text><text x="64.15" y="181.98" font-size="26.30" text-anchor="middle">7</text><text x="76.25" y="181.98" font-size="26.30" text-anchor="middle">0</text><text x="64.15" y="132.92" font-size="26.30" text-anchor="middle">8</text><text x="76.25" y="132.92" font-size="26.30" text-anchor="middle">0</text><text x="64.15" y="83.86" font-size="26.30" text-anchor="middle">9</text><text x="76.25" y="83.86" font-size="26.30" text-anchor="middle">0</text><text x="52.05" y="34.80" font-size="26.30" text-anchor="middle">1</text><text x="64.15" y="34.80" font-size="26.30" text-anchor="middle">0</text><text x="76.25" y="34.80" font-size="26.30" text-anchor="middle">0</text></g><g fill="#1c1c1c"><g transform="translate(90.80,534.6) rotate(90)"><text x="6.05" y="0.00" font-size="26.30" text-anchor="middle">4</text><text transform="translate(18.15,0.00) scale(1.65,1)" font-size="26.30" text-anchor="middle">/</text><text x="30.25" y="0.00" font-size="26.30" text-anchor="middle">1</text></g><g transform="translate(115.13,534.6) rotate(90)"><text x="6.05" y="0.00" font-size="26.30" text-anchor="middle">4</text><text transform="translate(18.15,0.00) scale(1.65,1)" font-size="26.30" text-anchor="middle">/</text><text x="30.25" y="0.00" font-size="26.30" text-anchor="middle">6</text></g><g transform="translate(139.46,534.6) rotate(90)"><text x="6.05" y="0.00" font-size="26.30" text-anchor="middle">4</text><text transform="translate(18.15,0.00) scale(1.65,1)" font-size="26.30" text-anchor="middle">/</text><text x="30.25" y="0.00" font-size="26.30" text-anchor="middle">1</text><text x="42.35" y="0.00" font-size="26.30" text-anchor="middle">1</text></g><g transform="translate(163.79,534.6) rotate(90)"><text x="6.05" y="0.00" font-size="26.30" text-anchor="middle">4</text><text transform="translate(18.15,0.00) scale(1.65,1)" font-size="26.30" text-anchor="middle">/</text><text x="30.25" y="0.00" font-size="26.30" text-anchor="middle">1</text><text x="42.35" y="0.00" font-size="26.30" text-anchor="middle">6</text></g><g transform="translate(188.12,534.6) rotate(90)"><text x="6.05" y="0.00" font-size="26.30" text-anchor="middle">4</text><text transform="translate(18.15,0.00) scale(1.65,1)" font-size="26.30" text-anchor="middle">/</text><text x="30.25" y="0.00" font-size="26.30" text-anchor="middle">2</text><text x="42.35" y="0.00" font-size="26.30" text-anchor="middle">1</text></g><g transform="translate(212.45,534.6) rotate(90)"><text x="6.05" y="0.00" font-size="26.30" text-anchor="middle">4</text><text transform="translate(18.15,0.00) scale(1.65,1)" font-size="26.30" text-anchor="middle">/</text><text x="30.25" y="0.00" font-size="26.30" text-anchor="middle">2</text><text x="42.35" y="0.00" font-size="26.30" text-anchor="middle">6</text></g><g transform="translate(236.78,534.6) rotate(90)"><text x="6.05" y="0.00" font-size="26.30" text-anchor="middle">5</text><text transform="translate(18.15,0.00) scale(1.65,1)" font-size="26.30" text-anchor="middle">/</text><text x="30.25" y="0.00" font-size="26.30" text-anchor="middle">1</text></g><g transform="translate(261.11,534.6) rotate(90)"><text x="6.05" y="0.00" font-size="26.30" text-anchor="middle">5</text><text transform="translate(18.15,0.00) scale(1.65,1)" font-size="26.30" text-anchor="middle">/</text><text x="30.25" y="0.00" font-size="26.30" text-anchor="middle">6</text></g><g transform="translate(285.44,534.6) rotate(90)"><text x="6.05" y="0.00" font-size="26.30" text-anchor="middle">5</text><text transform="translate(18.15,0.00) scale(1.65,1)" font-size="26.30" text-anchor="middle">/</text><text x="30.25" y="0.00" font-size="26.30" text-anchor="middle">1</text><text x="42.35" y="0.00" font-size="26.30" text-anchor="middle">1</text></g><g transform="translate(309.77,534.6) rotate(90)"><text x="6.05" y="0.00" font-size="26.30" text-anchor="middle">5</text><text transform="translate(18.15,0.00) scale(1.65,1)" font-size="26.30" text-anchor="middle">/</text><text x="30.25" y="0.00" font-size="26.30" text-anchor="middle">1</text><text x="42.35" y="0.00" font-size="26.30" text-anchor="middle">6</text></g><g transform="translate(334.10,534.6) rotate(90)"><text x="6.05" y="0.00" font-size="26.30" text-anchor="middle">5</text><text transform="translate(18.15,0.00) scale(1.65,1)" font-size="26.30" text-anchor="middle">/</text><text x="30.25" y="0.00" font-size="26.30" text-anchor="middle">2</text><text x="42.35" y="0.00" font-size="26.30" text-anchor="middle">1</text></g><g transform="translate(358.43,534.6) rotate(90)"><text x="6.05" y="0.00" font-size="26.30" text-anchor="middle">5</text><text transform="translate(18.15,0.00) scale(1.65,1)" font-size="26.30" text-anchor="middle">/</text><text x="30.25" y="0.00" font-size="26.30" text-anchor="middle">2</text><text x="42.35" y="0.00" font-size="26.30" text-anchor="middle">6</text></g><g transform="translate(382.76,534.6) rotate(90)"><text x="6.05" y="0.00" font-size="26.30" text-anchor="middle">5</text><text transform="translate(18.15,0.00) scale(1.65,1)" font-size="26.30" text-anchor="middle">/</text><text x="30.25" y="0.00" font-size="26.30" text-anchor="middle">3</text><text x="42.35" y="0.00" font-size="26.30" text-anchor="middle">1</text></g><g transform="translate(407.09,534.6) rotate(90)"><text x="6.05" y="0.00" font-size="26.30" text-anchor="middle">6</text><text transform="translate(18.15,0.00) scale(1.65,1)" font-size="26.30" text-anchor="middle">/</text><text x="30.25" y="0.00" font-size="26.30" text-anchor="middle">5</text></g><g transform="translate(431.42,534.6) rotate(90)"><text x="6.05" y="0.00" font-size="26.30" text-anchor="middle">6</text><text transform="translate(18.15,0.00) scale(1.65,1)" font-size="26.30" text-anchor="middle">/</text><text x="30.25" y="0.00" font-size="26.30" text-anchor="middle">1</text><text x="42.35" y="0.00" font-size="26.30" text-anchor="middle">0</text></g><g transform="translate(455.75,534.6) rotate(90)"><text x="6.05" y="0.00" font-size="26.30" text-anchor="middle">6</text><text transform="translate(18.15,0.00) scale(1.65,1)" font-size="26.30" text-anchor="middle">/</text><text x="30.25" y="0.00" font-size="26.30" text-anchor="middle">1</text><text x="42.35" y="0.00" font-size="26.30" text-anchor="middle">5</text></g><g transform="translate(480.08,534.6) rotate(90)"><text x="6.05" y="0.00" font-size="26.30" text-anchor="middle">6</text><text transform="translate(18.15,0.00) scale(1.65,1)" font-size="26.30" text-anchor="middle">/</text><text x="30.25" y="0.00" font-size="26.30" text-anchor="middle">2</text><text x="42.35" y="0.00" font-size="26.30" text-anchor="middle">0</text></g><g transform="translate(504.41,534.6) rotate(90)"><text x="6.05" y="0.00" font-size="26.30" text-anchor="middle">6</text><text transform="translate(18.15,0.00) scale(1.65,1)" font-size="26.30" text-anchor="middle">/</text><text x="30.25" y="0.00" font-size="26.30" text-anchor="middle">2</text><text x="42.35" y="0.00" font-size="26.30" text-anchor="middle">5</text></g><g transform="translate(528.74,534.6) rotate(90)"><text x="6.05" y="0.00" font-size="26.30" text-anchor="middle">6</text><text transform="translate(18.15,0.00) scale(1.65,1)" font-size="26.30" text-anchor="middle">/</text><text x="30.25" y="0.00" font-size="26.30" text-anchor="middle">3</text><text x="42.35" y="0.00" font-size="26.30" text-anchor="middle">0</text></g><g transform="translate(553.07,534.6) rotate(90)"><text x="6.05" y="0.00" font-size="26.30" text-anchor="middle">7</text><text transform="translate(18.15,0.00) scale(1.65,1)" font-size="26.30" text-anchor="middle">/</text><text x="30.25" y="0.00" font-size="26.30" text-anchor="middle">5</text></g><g transform="translate(577.40,534.6) rotate(90)"><text x="6.05" y="0.00" font-size="26.30" text-anchor="middle">7</text><text transform="translate(18.15,0.00) scale(1.65,1)" font-size="26.30" text-anchor="middle">/</text><text x="30.25" y="0.00" font-size="26.30" text-anchor="middle">1</text><text x="42.35" y="0.00" font-size="26.30" text-anchor="middle">0</text></g><g transform="translate(601.73,534.6) rotate(90)"><text x="6.05" y="0.00" font-size="26.30" text-anchor="middle">7</text><text transform="translate(18.15,0.00) scale(1.65,1)" font-size="26.30" text-anchor="middle">/</text><text x="30.25" y="0.00" font-size="26.30" text-anchor="middle">1</text><text x="42.35" y="0.00" font-size="26.30" text-anchor="middle">5</text></g><g transform="translate(626.06,534.6) rotate(90)"><text x="6.05" y="0.00" font-size="26.30" text-anchor="middle">7</text><text transform="translate(18.15,0.00) scale(1.65,1)" font-size="26.30" text-anchor="middle">/</text><text x="30.25" y="0.00" font-size="26.30" text-anchor="middle">2</text><text x="42.35" y="0.00" font-size="26.30" text-anchor="middle">0</text></g><g transform="translate(650.39,534.6) rotate(90)"><text x="6.05" y="0.00" font-size="26.30" text-anchor="middle">7</text><text transform="translate(18.15,0.00) scale(1.65,1)" font-size="26.30" text-anchor="middle">/</text><text x="30.25" y="0.00" font-size="26.30" text-anchor="middle">2</text><text x="42.35" y="0.00" font-size="26.30" text-anchor="middle">5</text></g><g transform="translate(674.72,534.6) rotate(90)"><text x="6.05" y="0.00" font-size="26.30" text-anchor="middle">7</text><text transform="translate(18.15,0.00) scale(1.65,1)" font-size="26.30" text-anchor="middle">/</text><text x="30.25" y="0.00" font-size="26.30" text-anchor="middle">3</text><text x="42.35" y="0.00" font-size="26.30" text-anchor="middle">0</text></g><g transform="translate(699.05,534.6) rotate(90)"><text x="6.05" y="0.00" font-size="26.30" text-anchor="middle">8</text><text transform="translate(18.15,0.00) scale(1.65,1)" font-size="26.30" text-anchor="middle">/</text><text x="30.25" y="0.00" font-size="26.30" text-anchor="middle">4</text></g><g transform="translate(723.38,534.6) rotate(90)"><text x="6.05" y="0.00" font-size="26.30" text-anchor="middle">8</text><text transform="translate(18.15,0.00) scale(1.65,1)" font-size="26.30" text-anchor="middle">/</text><text x="30.25" y="0.00" font-size="26.30" text-anchor="middle">9</text></g><g transform="translate(747.71,534.6) rotate(90)"><text x="6.05" y="0.00" font-size="26.30" text-anchor="middle">8</text><text transform="translate(18.15,0.00) scale(1.65,1)" font-size="26.30" text-anchor="middle">/</text><text x="30.25" y="0.00" font-size="26.30" text-anchor="middle">1</text><text x="42.35" y="0.00" font-size="26.30" text-anchor="middle">4</text></g><g transform="translate(772.04,534.6) rotate(90)"><text x="6.05" y="0.00" font-size="26.30" text-anchor="middle">8</text><text transform="translate(18.15,0.00) scale(1.65,1)" font-size="26.30" text-anchor="middle">/</text><text x="30.25" y="0.00" font-size="26.30" text-anchor="middle">1</text><text x="42.35" y="0.00" font-size="26.30" text-anchor="middle">9</text></g><g transform="translate(796.37,534.6) rotate(90)"><text x="6.05" y="0.00" font-size="26.30" text-anchor="middle">8</text><text transform="translate(18.15,0.00) scale(1.65,1)" font-size="26.30" text-anchor="middle">/</text><text x="30.25" y="0.00" font-size="26.30" text-anchor="middle">2</text><text x="42.35" y="0.00" font-size="26.30" text-anchor="middle">4</text></g><g transform="translate(820.70,534.6) rotate(90)"><text x="6.05" y="0.00" font-size="26.30" text-anchor="middle">8</text><text transform="translate(18.15,0.00) scale(1.65,1)" font-size="26.30" text-anchor="middle">/</text><text x="30.25" y="0.00" font-size="26.30" text-anchor="middle">2</text><text x="42.35" y="0.00" font-size="26.30" text-anchor="middle">9</text></g><g transform="translate(845.03,534.6) rotate(90)"><text x="6.05" y="0.00" font-size="26.30" text-anchor="middle">9</text><text transform="translate(18.15,0.00) scale(1.65,1)" font-size="26.30" text-anchor="middle">/</text><text x="30.25" y="0.00" font-size="26.30" text-anchor="middle">3</text></g><g transform="translate(869.36,534.6) rotate(90)"><text x="6.05" y="0.00" font-size="26.30" text-anchor="middle">9</text><text transform="translate(18.15,0.00) scale(1.65,1)" font-size="26.30" text-anchor="middle">/</text><text x="30.25" y="0.00" font-size="26.30" text-anchor="middle">8</text></g><g transform="translate(893.69,534.6) rotate(90)"><text x="6.05" y="0.00" font-size="26.30" text-anchor="middle">9</text><text transform="translate(18.15,0.00) scale(1.65,1)" font-size="26.30" text-anchor="middle">/</text><text x="30.25" y="0.00" font-size="26.30" text-anchor="middle">1</text><text x="42.35" y="0.00" font-size="26.30" text-anchor="middle">3</text></g><g transform="translate(918.02,534.6) rotate(90)"><text x="6.05" y="0.00" font-size="26.30" text-anchor="middle">9</text><text transform="translate(18.15,0.00) scale(1.65,1)" font-size="26.30" text-anchor="middle">/</text><text x="30.25" y="0.00" font-size="26.30" text-anchor="middle">1</text><text x="42.35" y="0.00" font-size="26.30" text-anchor="middle">8</text></g><g transform="translate(942.35,534.6) rotate(90)"><text x="6.05" y="0.00" font-size="26.30" text-anchor="middle">9</text><text transform="translate(18.15,0.00) scale(1.65,1)" font-size="26.30" text-anchor="middle">/</text><text x="30.25" y="0.00" font-size="26.30" text-anchor="middle">2</text><text x="42.35" y="0.00" font-size="26.30" text-anchor="middle">3</text></g><g transform="translate(966.68,534.6) rotate(90)"><text x="6.05" y="0.00" font-size="26.30" text-anchor="middle">9</text><text transform="translate(18.15,0.00) scale(1.65,1)" font-size="26.30" text-anchor="middle">/</text><text x="30.25" y="0.00" font-size="26.30" text-anchor="middle">2</text><text x="42.35" y="0.00" font-size="26.30" text-anchor="middle">8</text></g><g transform="translate(991.01,534.6) rotate(90)"><text x="6.05" y="0.00" font-size="26.30" text-anchor="middle">1</text><text x="18.15" y="0.00" font-size="26.30" text-anchor="middle">0</text><text transform="translate(30.25,0.00) scale(1.65,1)" font-size="26.30" text-anchor="middle">/</text><text x="42.35" y="0.00" font-size="26.30" text-anchor="middle">3</text></g><g transform="translate(1015.34,534.6) rotate(90)"><text x="6.05" y="0.00" font-size="26.30" text-anchor="middle">1</text><text x="18.15" y="0.00" font-size="26.30" text-anchor="middle">0</text><text transform="translate(30.25,0.00) scale(1.65,1)" font-size="26.30" text-anchor="middle">/</text><text x="42.35" y="0.00" font-size="26.30" text-anchor="middle">8</text></g><g transform="translate(1039.67,534.6) rotate(90)"><text x="6.05" y="0.00" font-size="26.30" text-anchor="middle">1</text><text x="18.15" y="0.00" font-size="26.30" text-anchor="middle">0</text><text transform="translate(30.25,0.00) scale(1.65,1)" font-size="26.30" text-anchor="middle">/</text><text x="42.35" y="0.00" font-size="26.30" text-anchor="middle">1</text><text x="54.45" y="0.00" font-size="26.30" text-anchor="middle">3</text></g></g><g fill="#1c1c1c"><text transform="translate(34,435.1) rotate(-90)" x="0" y="0" font-size="24" text-anchor="middle">(</text><text transform="translate(34,415.7) rotate(-90)" x="0" y="0" font-size="23" text-anchor="middle">灯</text><text transform="translate(34,389.9) rotate(-90)" x="0" y="0" font-size="23" text-anchor="middle">下</text><text transform="translate(34,364.1) rotate(-90)" x="0" y="0" font-size="23" text-anchor="middle">螟</text><text transform="translate(34,338.3) rotate(-90)" x="0" y="0" font-size="23" text-anchor="middle">蛾</text><text transform="translate(34,312.5) rotate(-90)" x="0" y="0" font-size="23" text-anchor="middle">蛾</text><text transform="translate(34,286.7) rotate(-90)" x="0" y="0" font-size="23" text-anchor="middle">量</text><text transform="translate(34,260.9) rotate(-90)" x="0" y="0" font-size="23" text-anchor="middle">：</text><text transform="translate(34,235.1) rotate(-90)" x="0" y="0" font-size="23" text-anchor="middle">只</text><text transform="translate(34,215.7) rotate(-90)" x="0" y="0" font-size="27" text-anchor="middle">/</text><text transform="translate(34,196.4) rotate(-90)" x="0" y="0" font-size="23" text-anchor="middle">灯</text><text transform="translate(34,177.0) rotate(-90)" x="0" y="0" font-size="27" text-anchor="middle">/</text><text transform="translate(34,157.7) rotate(-90)" x="0" y="0" font-size="23" text-anchor="middle">日</text><text transform="translate(34,131.9) rotate(-90)" x="0" y="0" font-size="23" text-anchor="middle">）</text></g><rect x="146.2" y="146.2" width="342" height="128" fill="#fff" stroke="#000" stroke-width="2"/><line x1="151" y1="156.3" x2="203.5" y2="156.3" stroke="#C00000" stroke-width="2.6" stroke-linecap="round"/><g fill="#1c1c1c"><text x="217.45" y="165.60" font-size="23.50" text-anchor="middle">2</text><text x="230.35" y="165.60" font-size="23.50" text-anchor="middle">0</text><text x="243.25" y="165.60" font-size="23.50" text-anchor="middle">2</text><text x="256.15" y="165.60" font-size="23.50" text-anchor="middle">2</text><text x="275.50" y="165.60" font-size="24.20" text-anchor="middle">实</text><text x="301.30" y="165.60" font-size="24.20" text-anchor="middle">发</text><text x="327.10" y="165.60" font-size="24.20" text-anchor="middle">值</text></g><line x1="151" y1="183.0" x2="203.5" y2="183.0" stroke="#000" stroke-width="2.8" stroke-linecap="round"/><g fill="#1c1c1c"><text x="223.90" y="191.80" font-size="24.20" text-anchor="middle">历</text><text x="249.70" y="191.80" font-size="24.20" text-anchor="middle">年</text><text x="275.50" y="191.80" font-size="24.20" text-anchor="middle">灯</text><text x="301.30" y="191.80" font-size="24.20" text-anchor="middle">下</text><text x="327.10" y="191.80" font-size="24.20" text-anchor="middle">均</text><text x="352.90" y="191.80" font-size="24.20" text-anchor="middle">值</text></g><line x1="151.5" y1="209.7" x2="198.5" y2="209.7" stroke="#EDB41E" stroke-width="2.6" stroke-dasharray="0 5.18" stroke-linecap="round"/><g fill="#1c1c1c"><text x="217.45" y="218.00" font-size="23.50" text-anchor="middle">2</text><text x="230.35" y="218.00" font-size="23.50" text-anchor="middle">0</text><text x="243.25" y="218.00" font-size="23.50" text-anchor="middle">2</text><text x="256.15" y="218.00" font-size="23.50" text-anchor="middle">2</text><text x="269.05" y="218.00" font-size="23.50" text-anchor="middle">(</text><text x="288.40" y="218.00" font-size="24.20" text-anchor="middle">第</text><text x="307.75" y="218.00" font-size="23.50" text-anchor="middle">1</text><text x="327.10" y="218.00" font-size="24.20" text-anchor="middle">代</text><text x="346.45" y="218.00" font-size="23.50" text-anchor="middle">)</text><text x="365.80" y="218.00" font-size="24.20" text-anchor="middle">最</text><text x="391.60" y="218.00" font-size="24.20" text-anchor="middle">高</text><text x="417.40" y="218.00" font-size="24.20" text-anchor="middle">峰</text><text x="443.20" y="218.00" font-size="24.20" text-anchor="middle">线</text></g><line x1="152.2" y1="236.4" x2="198" y2="236.4" stroke="#14A8E6" stroke-width="2.6" stroke-dasharray="5 5.3" stroke-linecap="round"/><g fill="#1c1c1c"><text x="217.45" y="244.20" font-size="23.50" text-anchor="middle">2</text><text x="230.35" y="244.20" font-size="23.50" text-anchor="middle">0</text><text x="243.25" y="244.20" font-size="23.50" text-anchor="middle">2</text><text x="256.15" y="244.20" font-size="23.50" text-anchor="middle">2</text><text x="269.05" y="244.20" font-size="23.50" text-anchor="middle">(</text><text x="281.95" y="244.20" font-size="23.50" text-anchor="middle">6</text><text transform="translate(294.85,244.20) scale(1.65,1)" font-size="23.50" text-anchor="middle">/</text><text x="307.75" y="244.20" font-size="23.50" text-anchor="middle">1</text><text x="320.65" y="244.20" font-size="23.50" text-anchor="middle">8</text><text transform="translate(333.55,244.20) scale(1.9,1)" font-size="23.50" text-anchor="middle">-</text><text x="346.45" y="244.20" font-size="23.50" text-anchor="middle">8</text><text transform="translate(359.35,244.20) scale(1.65,1)" font-size="23.50" text-anchor="middle">/</text><text x="372.25" y="244.20" font-size="23.50" text-anchor="middle">1</text><text x="385.15" y="244.20" font-size="23.50" text-anchor="middle">8</text><text x="398.05" y="244.20" font-size="23.50" text-anchor="middle">)</text><text x="417.40" y="244.20" font-size="24.20" text-anchor="middle">模</text><text x="443.20" y="244.20" font-size="24.20" text-anchor="middle">测</text><text x="469.00" y="244.20" font-size="24.20" text-anchor="middle">值</text></g><line x1="151" y1="263.1" x2="203.5" y2="263.1" stroke="#00F000" stroke-width="3" stroke-linecap="round"/><g fill="#1c1c1c"><text x="217.45" y="270.40" font-size="23.50" text-anchor="middle">2</text><text x="230.35" y="270.40" font-size="23.50" text-anchor="middle">0</text><text x="243.25" y="270.40" font-size="23.50" text-anchor="middle">2</text><text x="256.15" y="270.40" font-size="23.50" text-anchor="middle">0</text><text x="275.50" y="270.40" font-size="24.20" text-anchor="middle">实</text><text x="301.30" y="270.40" font-size="24.20" text-anchor="middle">发</text><text x="327.10" y="270.40" font-size="24.20" text-anchor="middle">值</text></g><g fill="#1c1c1c"><text x="162.30" y="631.30" font-size="29.00" text-anchor="middle">图</text><text x="185.55" y="631.30" font-size="31.00" text-anchor="middle">1</text><text x="232.05" y="631.30" font-size="31.00" text-anchor="middle">2</text><text x="247.55" y="631.30" font-size="31.00" text-anchor="middle">0</text><text x="263.05" y="631.30" font-size="31.00" text-anchor="middle">2</text><text x="278.55" y="631.30" font-size="31.00" text-anchor="middle">2</text><text x="301.80" y="631.30" font-size="29.00" text-anchor="middle">二</text><text x="332.80" y="631.30" font-size="29.00" text-anchor="middle">化</text><text x="363.80" y="631.30" font-size="29.00" text-anchor="middle">螟</text><text x="394.80" y="631.30" font-size="29.00" text-anchor="middle">螟</text><text x="425.80" y="631.30" font-size="29.00" text-anchor="middle">蛾</text><text x="456.80" y="631.30" font-size="29.00" text-anchor="middle">实</text><text x="487.80" y="631.30" font-size="29.00" text-anchor="middle">况</text><text x="518.80" y="631.30" font-size="29.00" text-anchor="middle">及</text><text x="549.80" y="631.30" font-size="29.00" text-anchor="middle">单</text><text x="580.80" y="631.30" font-size="29.00" text-anchor="middle">季</text><text x="611.80" y="631.30" font-size="29.00" text-anchor="middle">（</text><text x="642.80" y="631.30" font-size="29.00" text-anchor="middle">晚</text><text x="673.80" y="631.30" font-size="29.00" text-anchor="middle">）</text><text x="704.80" y="631.30" font-size="29.00" text-anchor="middle">稻</text><text x="728.05" y="631.30" font-size="31.00" text-anchor="middle">9</text><text x="751.30" y="631.30" font-size="29.00" text-anchor="middle">、</text><text x="774.55" y="631.30" font-size="31.00" text-anchor="middle">1</text><text x="790.05" y="631.30" font-size="31.00" text-anchor="middle">0</text><text x="813.30" y="631.30" font-size="29.00" text-anchor="middle">月</text><text x="844.30" y="631.30" font-size="29.00" text-anchor="middle">日</text><text x="875.30" y="631.30" font-size="29.00" text-anchor="middle">序</text><text x="906.30" y="631.30" font-size="29.00" text-anchor="middle">实</text><text x="937.30" y="631.30" font-size="29.00" text-anchor="middle">发</text><text x="968.30" y="631.30" font-size="29.00" text-anchor="middle">蛾</text><text x="471.50" y="669.50" font-size="29.00" text-anchor="middle">量</text><text x="502.50" y="669.50" font-size="29.00" text-anchor="middle">和</text><text x="533.50" y="669.50" font-size="29.00" text-anchor="middle">模</text><text x="564.50" y="669.50" font-size="29.00" text-anchor="middle">测</text><text x="595.50" y="669.50" font-size="29.00" text-anchor="middle">流</text><text x="626.50" y="669.50" font-size="29.00" text-anchor="middle">量</text><text x="657.50" y="669.50" font-size="29.00" text-anchor="middle">图</text></g><g fill="none">
<g stroke="#fff" stroke-width="3.2" opacity="0.8">
<path d="M906,624.5 c-8.5,0 -15.2,5.3 -15.2,11.8 c0,3.6 2,6.8 5.2,9 l-1.5,4.2 l5,-2.6 c2,0.6 4.2,0.9 6.5,0.9 c8.4,0 15.2,-5.3 15.2,-11.6 c0,-6.5 -6.8,-11.7 -15.2,-11.7 z"/>
<path d="M920,631.8 c-7.4,0 -13.4,4.9 -13.4,11 c0,6.1 6,11 13.4,11 c1.9,0 3.7,-0.3 5.3,-0.9 l5,2.4 l-1.3,-4 c2.7,-2 4.4,-5 4.4,-8.5 c0,-6.1 -6,-11 -13.4,-11 z"/>
</g>
<path d="M906,624.5 c-8.5,0 -15.2,5.3 -15.2,11.8 c0,3.6 2,6.8 5.2,9 l-1.5,4.2 l5,-2.6 c2,0.6 4.2,0.9 6.5,0.9 c8.4,0 15.2,-5.3 15.2,-11.6 c0,-6.5 -6.8,-11.7 -15.2,-11.7 z" stroke="#b0b0b0" stroke-width="1.1"/>
<path d="M920,631.8 c-7.4,0 -13.4,4.9 -13.4,11 c0,6.1 6,11 13.4,11 c1.9,0 3.7,-0.3 5.3,-0.9 l5,2.4 l-1.3,-4 c2.7,-2 4.4,-5 4.4,-8.5 c0,-6.1 -6,-11 -13.4,-11 z" fill="#fff" stroke="#a0a0a0" stroke-width="1.2"/>
<circle cx="915.8" cy="639.8" r="1.5" stroke="#aaa" stroke-width="0.9"/><circle cx="925" cy="639.8" r="1.5" stroke="#aaa" stroke-width="0.9"/>
</g><g fill="#a8a8a8" stroke="#fff" stroke-width="1.6" stroke-opacity="0.85" paint-order="stroke"><text x="953.65" y="650.00" font-size="24.00" text-anchor="middle">台</text><text x="978.95" y="650.00" font-size="24.00" text-anchor="middle">州</text><text x="1004.25" y="650.00" font-size="24.00" text-anchor="middle">农</text><text x="1029.55" y="650.00" font-size="24.00" text-anchor="middle">资</text></g>
</svg></body></html>
